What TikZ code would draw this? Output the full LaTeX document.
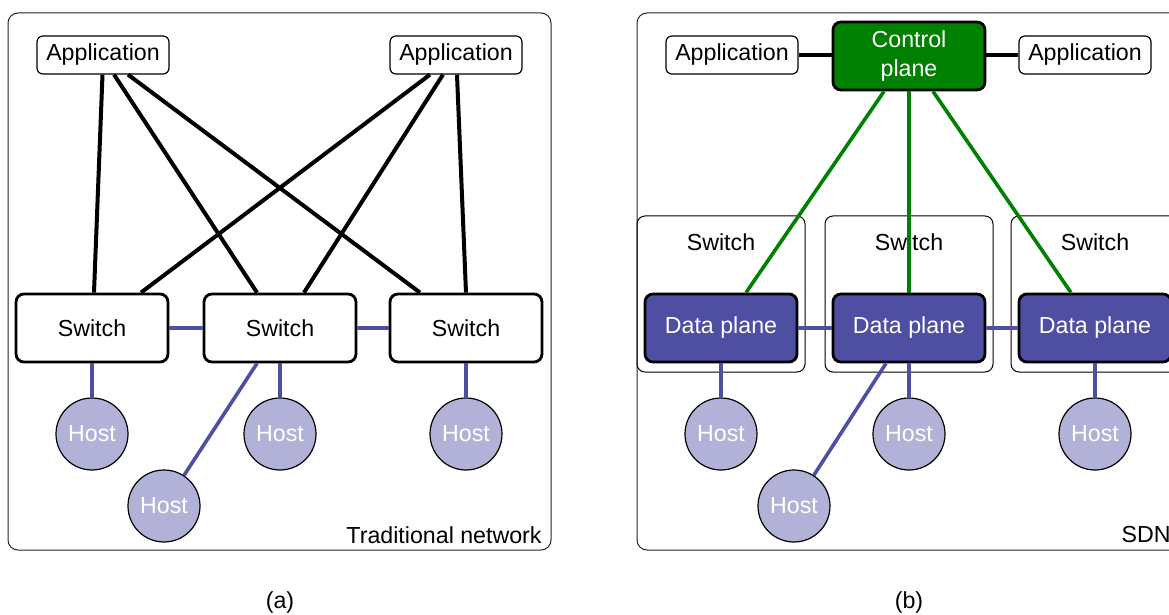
\documentclass[tikz,border=0pt]{standalone}
\usepackage{fontspec}
\setmainfont{Liberation Sans}
\usetikzlibrary{calc}
\definecolor{dpblue}{RGB}{78,78,162}
\definecolor{hostfill}{RGB}{178,178,216}
\definecolor{ctrlgreen}{RGB}{0,128,0}
\tikzset{
  panel/.style={draw=black!85, line width=0.5pt, rounded corners=5pt},
  appbox/.style={draw, rounded corners=3pt, line width=0.6pt, fill=white, minimum width=66pt, minimum height=19pt},
  switchbox/.style={draw, rounded corners=4pt, line width=1.4pt, fill=white, minimum width=76pt, minimum height=34pt},
  dataplane/.style={switchbox, fill=dpblue, text=white},
  ctrlbox/.style={switchbox, fill=ctrlgreen, text=white, align=center},
  hostnode/.style={circle, draw, line width=0.6pt, fill=hostfill, text=white, minimum size=36pt},
  swframe/.style={draw, rounded corners=4pt, line width=0.5pt, minimum width=84pt, minimum height=78pt},
  applink/.style={draw=black, line width=2pt},
  hostlink/.style={draw=dpblue, line width=1.8pt},
  ctrllink/.style={draw=ctrlgreen, line width=1.8pt},
}
\begin{document}
\begin{tikzpicture}[x=0.5pt,y=-0.5pt]
\tikzstyle{every node}+=[inner sep=0pt, font=\fontsize{11.6}{14.5}\selectfont]
\useasboundingbox (0,0) rectangle (1169,615);
% (a) traditional network
\draw [panel] (8,13) rectangle (551,550);
\node [appbox] (app1) at (103,55) {Application};
\node [appbox] (app2) at (456,55) {Application};
\node [switchbox] (sw1) at (92,328) {Switch};
\node [switchbox] (sw2) at (280,328) {Switch};
\node [switchbox] (sw3) at (466,328) {Switch};
\node [hostnode] (h1) at (92,434) {Host};
\node [hostnode] (h2) at (280,434) {Host};
\node [hostnode] (h3) at (466,434) {Host};
\node [hostnode] (h4) at (164,506) {Host};
\draw [applink] ($(app1.south)+(-0.5,0)$) -- ($(sw1.north)+(2,0)$);
\draw [applink] ($(app1.south)+(11,0)$) -- ($(sw2.north)+(-23,0)$);
\draw [applink] ($(app1.south)+(25,0)$) -- ($(sw3.north)+(-46,0)$);
\draw [applink] ($(app2.south)+(-26,0)$) -- ($(sw1.north)+(49,0)$);
\draw [applink] ($(app2.south)+(-13,0)$) -- ($(sw2.north)+(24,0)$);
\draw [applink] ($(app2.south)+(1,0)$) -- ($(sw3.north)+(0,0)$);
\draw [hostlink] (sw1) -- (sw2);
\draw [hostlink] (sw2) -- (sw3);
\draw [hostlink] (sw1) -- (h1);
\draw [hostlink] (sw2) -- (h2);
\draw [hostlink] (sw3) -- (h3);
\draw [hostlink] ($(sw2.south)+(-23,0)$) -- (h4);
\node [anchor=east] (tradlabel) at (542,535) {Traditional network};
\node (capa) at (280,602) {(a)};
% (b) SDN
\draw [panel] (637,13) rectangle (1180,550);
\node [swframe] (fr1) at (721,294) {};
\node [swframe] (fr2) at (909,294) {};
\node [swframe] (fr3) at (1095,294) {};
\node (frl1) at (721,242) {Switch};
\node (frl2) at (909,242) {Switch};
\node (frl3) at (1095,242) {Switch};
\node [appbox] (app3) at (732,55) {Application};
\node [ctrlbox] (ctrl) at (909,56) {Control\\plane};
\node [appbox] (app4) at (1085,55) {Application};
\node [dataplane] (dp1) at (721,328) {Data plane};
\node [dataplane] (dp2) at (909,328) {Data plane};
\node [dataplane] (dp3) at (1095,328) {Data plane};
\node [hostnode] (h5) at (721,434) {Host};
\node [hostnode] (h6) at (909,434) {Host};
\node [hostnode] (h7) at (1095,434) {Host};
\node [hostnode] (h8) at (794,506) {Host};
\draw [applink] (app3.east) -- (ctrl.west |- app3.east);
\draw [applink] (ctrl.east |- app4.west) -- (app4.west);
\draw [ctrllink] ($(ctrl.south)+(-25,0)$) -- ($(dp1.north)+(25,0)$);
\draw [ctrllink] (ctrl.south) -- (dp2.north);
\draw [ctrllink] ($(ctrl.south)+(24,0)$) -- ($(dp3.north)+(-24,0)$);
\draw [hostlink] (dp1) -- (dp2);
\draw [hostlink] (dp2) -- (dp3);
\draw [hostlink] (dp1) -- (h5);
\draw [hostlink] (dp2) -- (h6);
\draw [hostlink] (dp3) -- (h7);
\draw [hostlink] ($(dp2.south)+(-23,0)$) -- (h8);
\node [anchor=east] (sdnlabel) at (1171,535) {SDN};
\node (capb) at (909,602) {(b)};
\end{tikzpicture}
\end{document}
